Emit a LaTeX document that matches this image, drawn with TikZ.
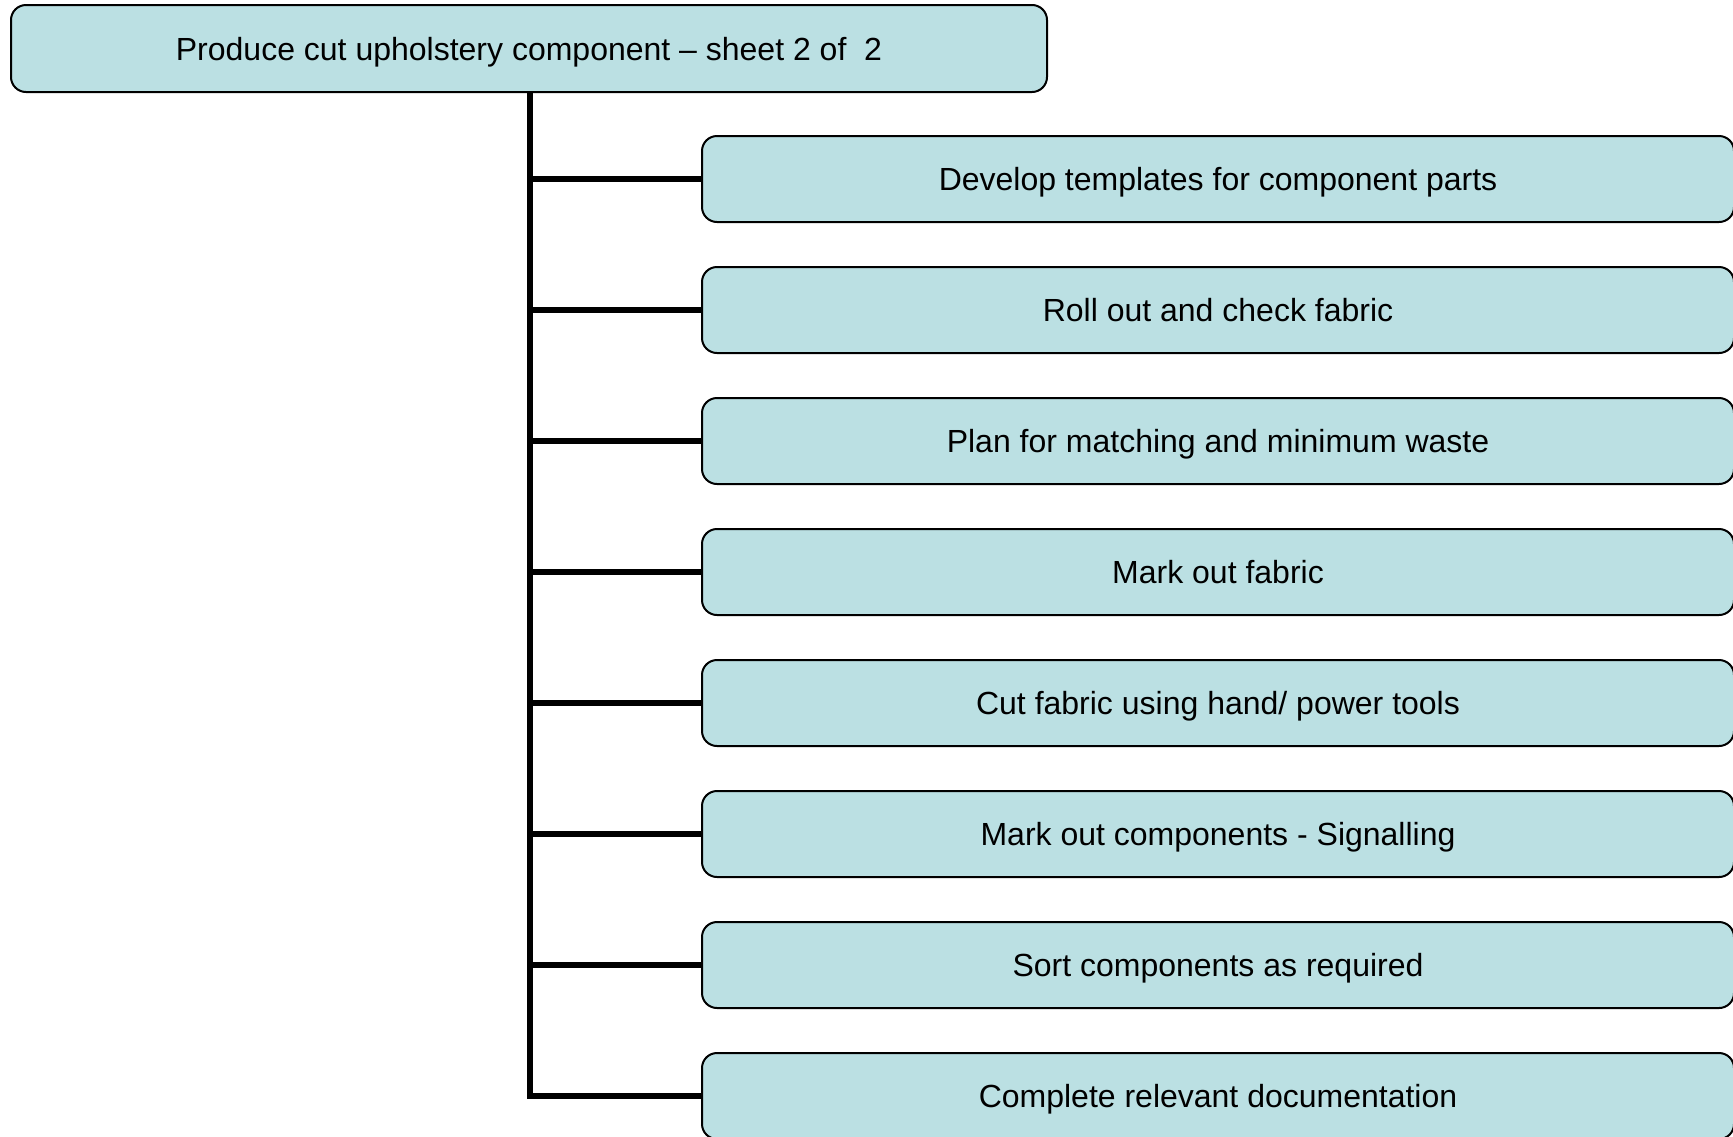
\documentclass[tikz,border=0pt]{standalone}
\usepackage{fontspec}
\setmainfont{Liberation Sans}
\definecolor{boxfill}{RGB}{187,224,227}
\begin{document}
\begin{tikzpicture}[x=0.5pt,y=-0.5pt,
  box/.style={draw=black, line width=1pt, fill=boxfill, rounded corners=7.5pt,
    inner sep=0pt, align=center, text height=11.5pt, text depth=0pt,
    font=\fontsize{16pt}{19pt}\selectfont},
  topbox/.style={box, minimum width=518pt, minimum height=43.5pt},
  childbox/.style={box, minimum width=516pt, minimum height=43pt},
  conn/.style={line width=3pt}]
\useasboundingbox (0,0) rectangle (1733,1136);
\node[topbox] (top) at (529,48.5) {Produce cut upholstery component -- sheet 2 of\ \ 2};
\node[childbox] (c1) at (1218,179) {Develop templates for component parts};
\node[childbox] (c2) at (1218,310) {Roll out and check fabric};
\node[childbox] (c3) at (1218,441) {Plan for matching and minimum waste};
\node[childbox] (c4) at (1218,572) {Mark out fabric};
\node[childbox] (c5) at (1218,703) {Cut fabric using hand/ power tools};
\node[childbox] (c6) at (1218,834) {Mark out components - Signalling};
\node[childbox] (c7) at (1218,965) {Sort components as required};
\node[childbox] (c8) at (1218,1096) {Complete relevant documentation};
\coordinate (trunktop) at (530,92);
\coordinate (trunkbot) at (530,1096);
\draw[conn] (trunktop) -- (trunkbot) -- (c8.west);
\foreach \i in {1,...,7}{
  \draw[conn] (trunktop |- c\i.west) -- (c\i.west);
}
\end{tikzpicture}
\end{document}
